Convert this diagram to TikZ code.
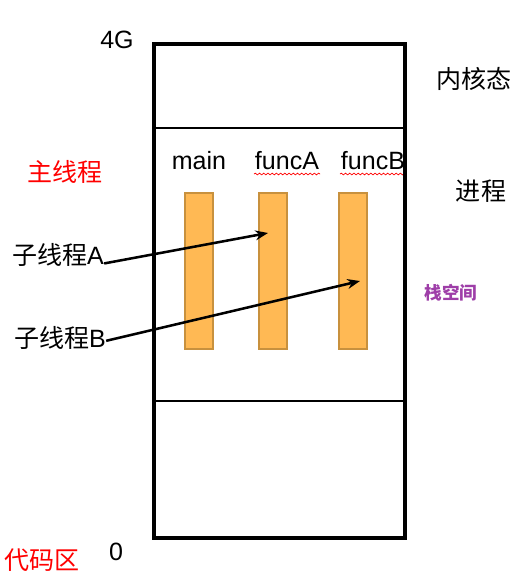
\documentclass[tikz,border=0pt]{standalone}
\usepackage{fontspec}
\setmainfont{Liberation Sans}
\newfontfamily\cjk{Noto Sans CJK SC}
\usepackage{xcolor}
\usetikzlibrary{arrows.meta,decorations.pathmorphing}

\definecolor{stackfill}{HTML}{FFB954}
\definecolor{stackline}{HTML}{C8913E}
\definecolor{stackpurple}{HTML}{9E3EA8}

\tikzset{
  bigtext/.style={font=\fontsize{17.8}{20}\selectfont, inner sep=0pt},
  stackbar/.style={fill=stackfill, draw=stackline, line width=0.8pt},
  callarrow/.style={-{Stealth[length=9pt,width=7pt]}, line width=1.8pt},
  spellwave/.style={red, line width=0.5pt, decorate,
    decoration={snake, amplitude=0.6pt, segment length=3pt}}
}

\begin{document}
\begin{tikzpicture}[x=0.025cm,y=-0.025cm]
			\useasboundingbox (0,0) rectangle (520,574);
			
			% 栈
			\draw[stackbar] (185,193) rectangle (213,349);
			\draw[stackbar] (259,193) rectangle (287,349);
			\draw[stackbar] (339,193) rectangle (367,349);
			
			\node[bigtext] (main)  at (199,161) {main};
			\node[bigtext] (funcA) at (287,161) {funcA};
			\node[bigtext] (funcB) at (373,161) {funcB};
			\draw[spellwave] (254,174) -- (320,174);
			\draw[spellwave] (340,174) -- (405,174);
			
			% 进程空间
			\draw[line width=1.4pt] (154,128) -- (405,128);
			\draw[line width=1.4pt] (154,401) -- (405,401);
			\draw[line width=2.4pt] (154,44) rectangle (405,538);
			
			\node[bigtext] (top) at (117,40) {4G};
			\node[bigtext] (bottom) at (116,552) {0};
			\node[bigtext] (kernel) at (474,79) {\cjk 内核态};
			\node[bigtext] (proc) at (481,191) {\cjk 进程};
			\node[bigtext,font=\fontsize{12.5}{14}\selectfont\cjk\bfseries,text=stackpurple]
				(stack) at (451,293) {栈空间};
			
			% 线程
			\node[bigtext,text=red] (mainth) at (65,172) {\cjk 主线程};
			\node[bigtext] (labA) at (58,255) {{\cjk 子线程}A};
			\node[bigtext] (labB) at (60,338) {{\cjk 子线程}B};
			\node[bigtext,text=red,anchor=west] (code) at (4,560) {\cjk 代码区};
			
			\coordinate (tipA) at (268,233);
			\coordinate (tipB) at (360,281);
			\draw[callarrow] ([yshift=-6pt]labA.east) -- (tipA);
			\draw[callarrow] ([yshift=-2pt]labB.east) -- (tipB);
			
		\end{tikzpicture}
\end{document}
